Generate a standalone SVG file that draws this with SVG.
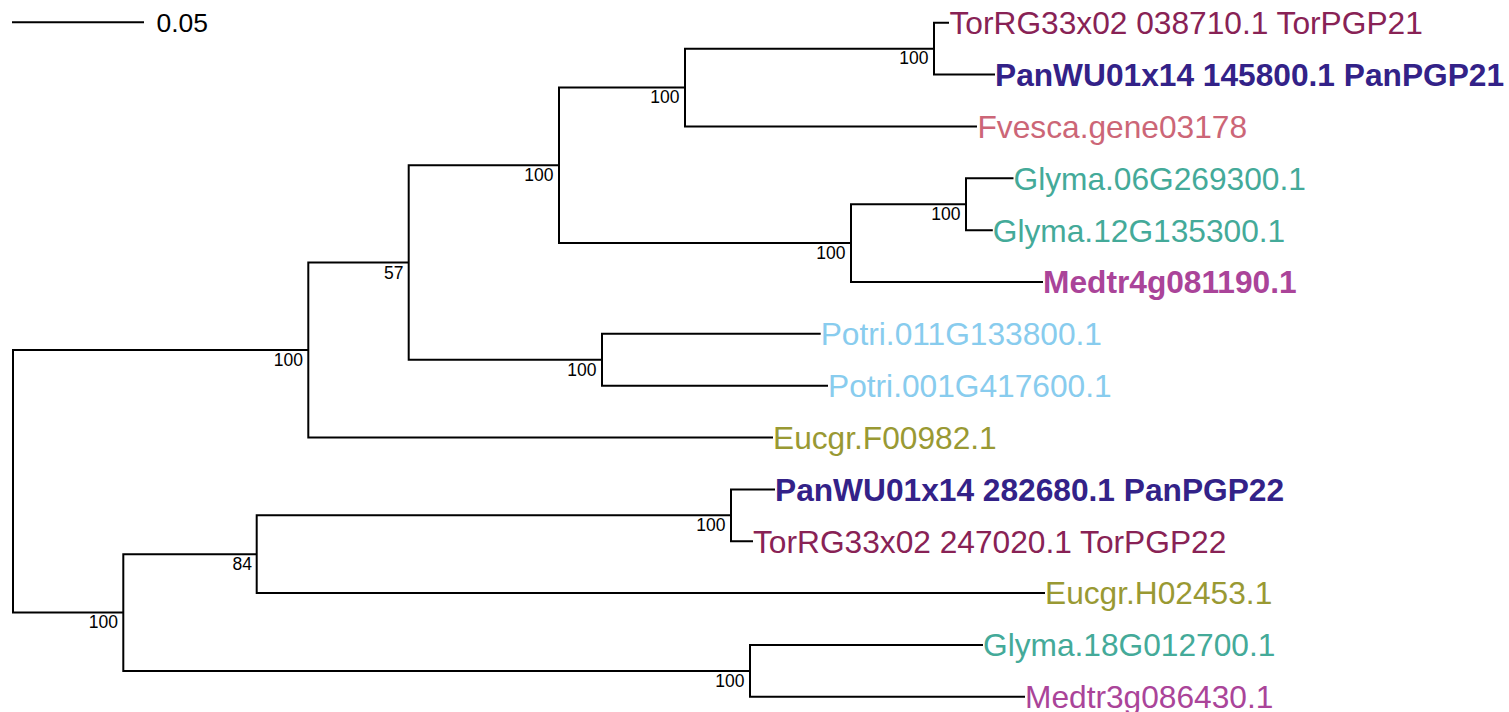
<svg xmlns="http://www.w3.org/2000/svg" width="1509" height="712" viewBox="0 0 1509 712">
<style>
.br{fill:none;stroke:#000;stroke-width:2;stroke-linejoin:miter;stroke-linecap:butt}
.tip{font-family:"Liberation Sans",Arial,sans-serif;font-size:31.7px}
.b{font-weight:bold}
.bs{font-family:"Liberation Sans",Arial,sans-serif;font-size:17.5px;fill:#000;text-anchor:end}
.sc{font-family:"Liberation Sans",Arial,sans-serif;font-size:26.5px;fill:#000}
.tor{fill:#882255}.pan{fill:#332288}.fve{fill:#CC6677}.gly{fill:#44AA99}.med{fill:#AA4499}.pot{fill:#88CCEE}.euc{fill:#999933}
</style>
<rect width="1509" height="712" fill="#fff"/>
<g id="scale-bar">
<line class="br" x1="12" y1="22.3" x2="144" y2="22.3"/>
<text class="sc" x="156.5" y="32.3">0.05</text>
</g>
<g id="connectors">
<path class="br" d="M308.3 350.05 H13 V612.55 H123.3"/>
<path class="br" d="M408.7 262.56 H308.3 V437.55 H773"/>
<path class="br" d="M559 165.34 H408.7 V359.78 H602"/>
<path class="br" d="M685 87.56 H559 V243.11 H851"/>
<path class="br" d="M934 48.68 H685 V126.45 H977"/>
<path class="br" d="M949 22.75 H934 V74.6 H995"/>
<path class="br" d="M966 204.23 H851 V282 H1043"/>
<path class="br" d="M1013.5 178.3 H966 V230.15 H992.8"/>
<path class="br" d="M820.7 333.85 H602 V385.7 H828"/>
<path class="br" d="M256.7 554.21 H123.3 V670.88 H750"/>
<path class="br" d="M731 515.33 H256.7 V593.1 H1045"/>
<path class="br" d="M775 489.4 H731 V541.25 H753"/>
<path class="br" d="M983 644.95 H750 V696.8 H1025"/>
</g>
<g id="tip-TorPGP21"><text class="tip tor" x="949.5" y="34.1">TorRG33x02 038710.1 TorPGP21</text></g>
<g id="tip-PanPGP21"><text class="tip b pan" x="995" y="85.95">PanWU01x14 145800.1 PanPGP21</text></g>
<g id="tip-Fvesca"><text class="tip fve" x="977.5" y="137.8">Fvesca.gene03178</text></g>
<g id="tip-Glyma06G"><text class="tip gly" x="1013.5" y="189.65">Glyma.06G269300.1</text></g>
<g id="tip-Glyma12G"><text class="tip gly" x="992.8" y="241.5">Glyma.12G135300.1</text></g>
<g id="tip-Medtr4g"><text class="tip b med" x="1043" y="293.35">Medtr4g081190.1</text></g>
<g id="tip-Potri011G"><text class="tip pot" x="820.7" y="345.2">Potri.011G133800.1</text></g>
<g id="tip-Potri001G"><text class="tip pot" x="828" y="397.05">Potri.001G417600.1</text></g>
<g id="tip-EucgrF"><text class="tip euc" x="773" y="448.9">Eucgr.F00982.1</text></g>
<g id="tip-PanPGP22"><text class="tip b pan" x="775" y="500.75">PanWU01x14 282680.1 PanPGP22</text></g>
<g id="tip-TorPGP22"><text class="tip tor" x="753" y="552.6">TorRG33x02 247020.1 TorPGP22</text></g>
<g id="tip-EucgrH"><text class="tip euc" x="1045" y="604.45">Eucgr.H02453.1</text></g>
<g id="tip-Glyma18G"><text class="tip gly" x="983" y="656.3">Glyma.18G012700.1</text></g>
<g id="tip-Medtr3g"><text class="tip med" x="1025" y="708.15">Medtr3g086430.1</text></g>
<g id="node-308"><text class="bs" x="303" y="366">100</text></g>
<g id="node-408"><text class="bs" x="403.5" y="278.5">57</text></g>
<g id="node-559"><text class="bs" x="553.5" y="181.2">100</text></g>
<g id="node-685"><text class="bs" x="679.5" y="103.3">100</text></g>
<g id="node-934"><text class="bs" x="928.5" y="64.4">100</text></g>
<g id="node-851"><text class="bs" x="845.5" y="258.9">100</text></g>
<g id="node-966"><text class="bs" x="960.5" y="220">100</text></g>
<g id="node-602"><text class="bs" x="596.5" y="375.5">100</text></g>
<g id="node-123"><text class="bs" x="118" y="628.3">100</text></g>
<g id="node-257"><text class="bs" x="252" y="570">84</text></g>
<g id="node-731"><text class="bs" x="725.5" y="531.1">100</text></g>
<g id="node-750"><text class="bs" x="744.5" y="686.6">100</text></g>
</svg>
